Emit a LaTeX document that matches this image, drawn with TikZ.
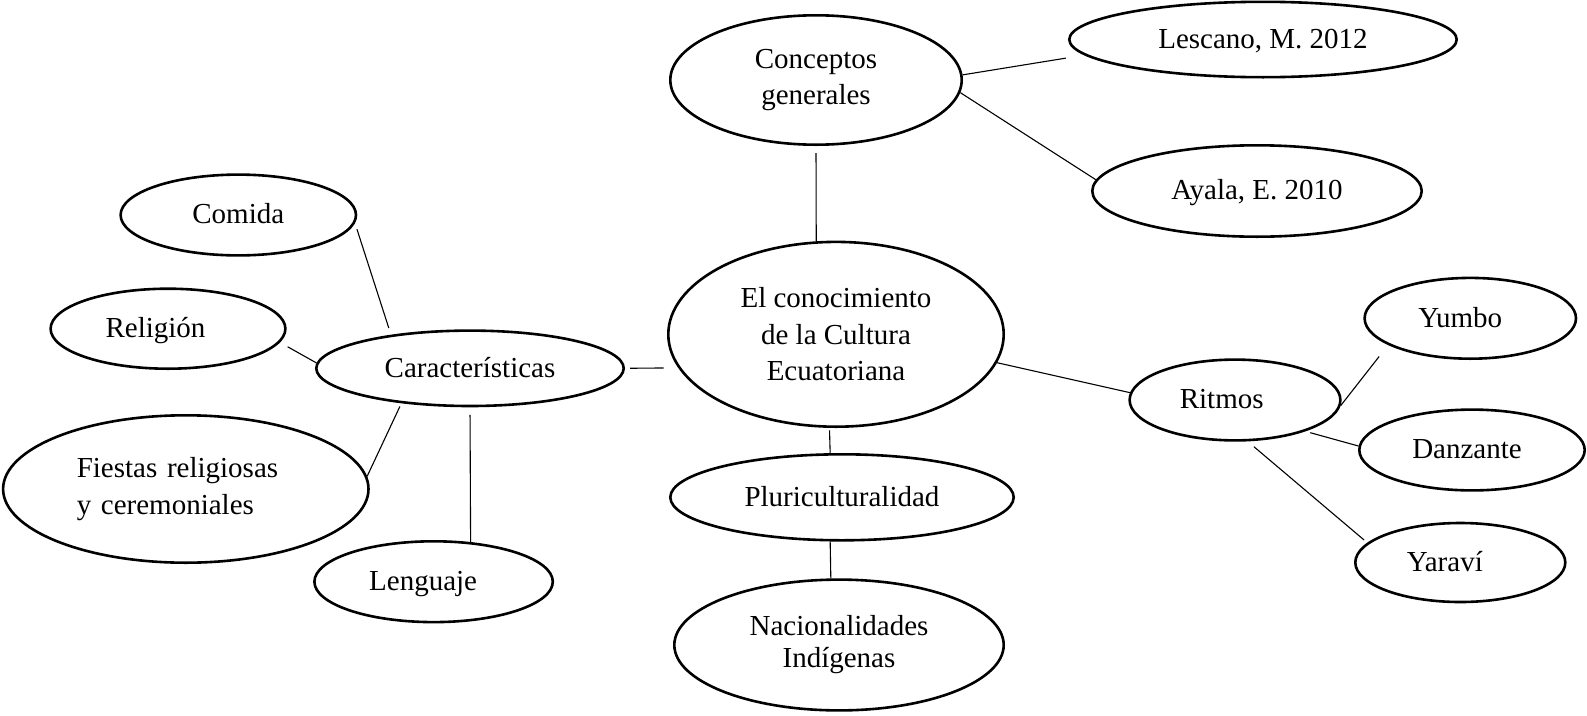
\documentclass[tikz,border=0pt]{standalone}
\usepackage{fontspec}
\setmainfont{Liberation Serif}
\usetikzlibrary{shapes.geometric}
\begin{document}
\begin{tikzpicture}[x=1pt,y=-1pt,
  ell/.style={ellipse, draw, line width=2.6pt, inner sep=0pt, font=\fontsize{29}{36.5}\selectfont},
  one/.style={text height=21.75pt, text depth=3.77pt},
  conn/.style={line width=1.1pt}]
\useasboundingbox (0,0) rectangle (1587,715);
% nodes
\node[ell, align=center, minimum width=291.4pt, minimum height=129.4pt] (conc) at (816,80) {Conceptos\\generales};
\node[ell, one, minimum width=387.4pt, minimum height=75.4pt] (lesc) at (1263,39.5) {Lescano, M. 2012};
\node[ell, one, minimum width=329.4pt, minimum height=91.4pt] (ayala) at (1257,191) {Ayala, E. 2010};
\node[ell, one, minimum width=235.4pt, minimum height=80.8pt] (comida) at (238.3,215) {Comida};
\node[ell, one, minimum width=234.8pt, minimum height=80pt] (relig) at (168,328.7) {Religión\rule{25pt}{0pt}};
\node[ell, one, minimum width=307.4pt, minimum height=75.4pt] (carac) at (470,368.3) {Características};
\node[ell, align=left, text width=218pt, minimum width=365.4pt, minimum height=147.4pt] (fiestas) at (185.8,489) {Fiestas religiosas\\y ceremoniales};
\node[ell, one, minimum width=238.4pt, minimum height=80.8pt] (leng) at (433.6,581.7) {Lenguaje\rule{21pt}{0pt}};
\node[ell, align=center, minimum width=335.4pt, minimum height=184.8pt] (el) at (836,334.3) {El conocimiento\\de la Cultura\\Ecuatoriana};
\node[ell, one, minimum width=343.4pt, minimum height=86pt] (pluri) at (842,497.3) {Pluriculturalidad};
\node[ell, align=center, font=\fontsize{29}{32}\selectfont, minimum width=329.4pt, minimum height=130.8pt] (nac) at (839,645) {Nacionalidades\\Indígenas};
\node[ell, one, minimum width=210.8pt, minimum height=80.8pt] (ritmos) at (1235,400) {Ritmos\rule{26.6pt}{0pt}};
\node[ell, one, minimum width=211.4pt, minimum height=80.8pt] (yumbo) at (1470.3,318.3) {Yumbo\rule{20pt}{0pt}};
\node[ell, one, minimum width=225.4pt, minimum height=80.8pt] (danz) at (1472,450) {Danzante\rule{10pt}{0pt}};
\node[ell, one, minimum width=210pt, minimum height=79pt] (yaravi) at (1460.3,562.5) {Yaraví\rule{31pt}{0pt}};
% connectors
\draw[conn, shorten >=18.8pt] (conc.2.8) -- (lesc.185.7);
\draw[conn] (conc.-5.2) -- (ayala.176.2);
\draw[conn, shorten <=7pt] (conc.south) -- (el.102.1);
\draw[conn, shorten <=6.4pt, shorten >=7.1pt] (comida.-4.7) -- (carac.157.7);
\draw[conn, shorten <=8.8pt] (relig.-7.8) -- (carac.178.4);
\draw[conn, shorten <=5pt, shorten >=14.5pt] (carac.east) -- (el.192.2);
\draw[conn] (el.-10.1) -- (ritmos.176.4);
\draw[conn, shorten <=2.5pt] (el.266.3) -- (pluri.105.2);
\draw[conn] (pluri.255.7) -- (nac.97.1);
\draw[conn, shorten <=3.5pt] (carac.207.8) -- (fiestas.4.1);
\draw[conn, shorten <=7.5pt] (carac.south) -- (leng.47.5);
\draw[conn, shorten >=14.6pt] (ritmos.-3.3) -- (yumbo.198.5);
\draw[conn, shorten <=5pt] (ritmos.-24.1) -- (danz.178);
\draw[conn, shorten <=8.2pt, shorten >=4.3pt] (ritmos.-73) -- (yaravi.168);
\end{tikzpicture}
\end{document}
